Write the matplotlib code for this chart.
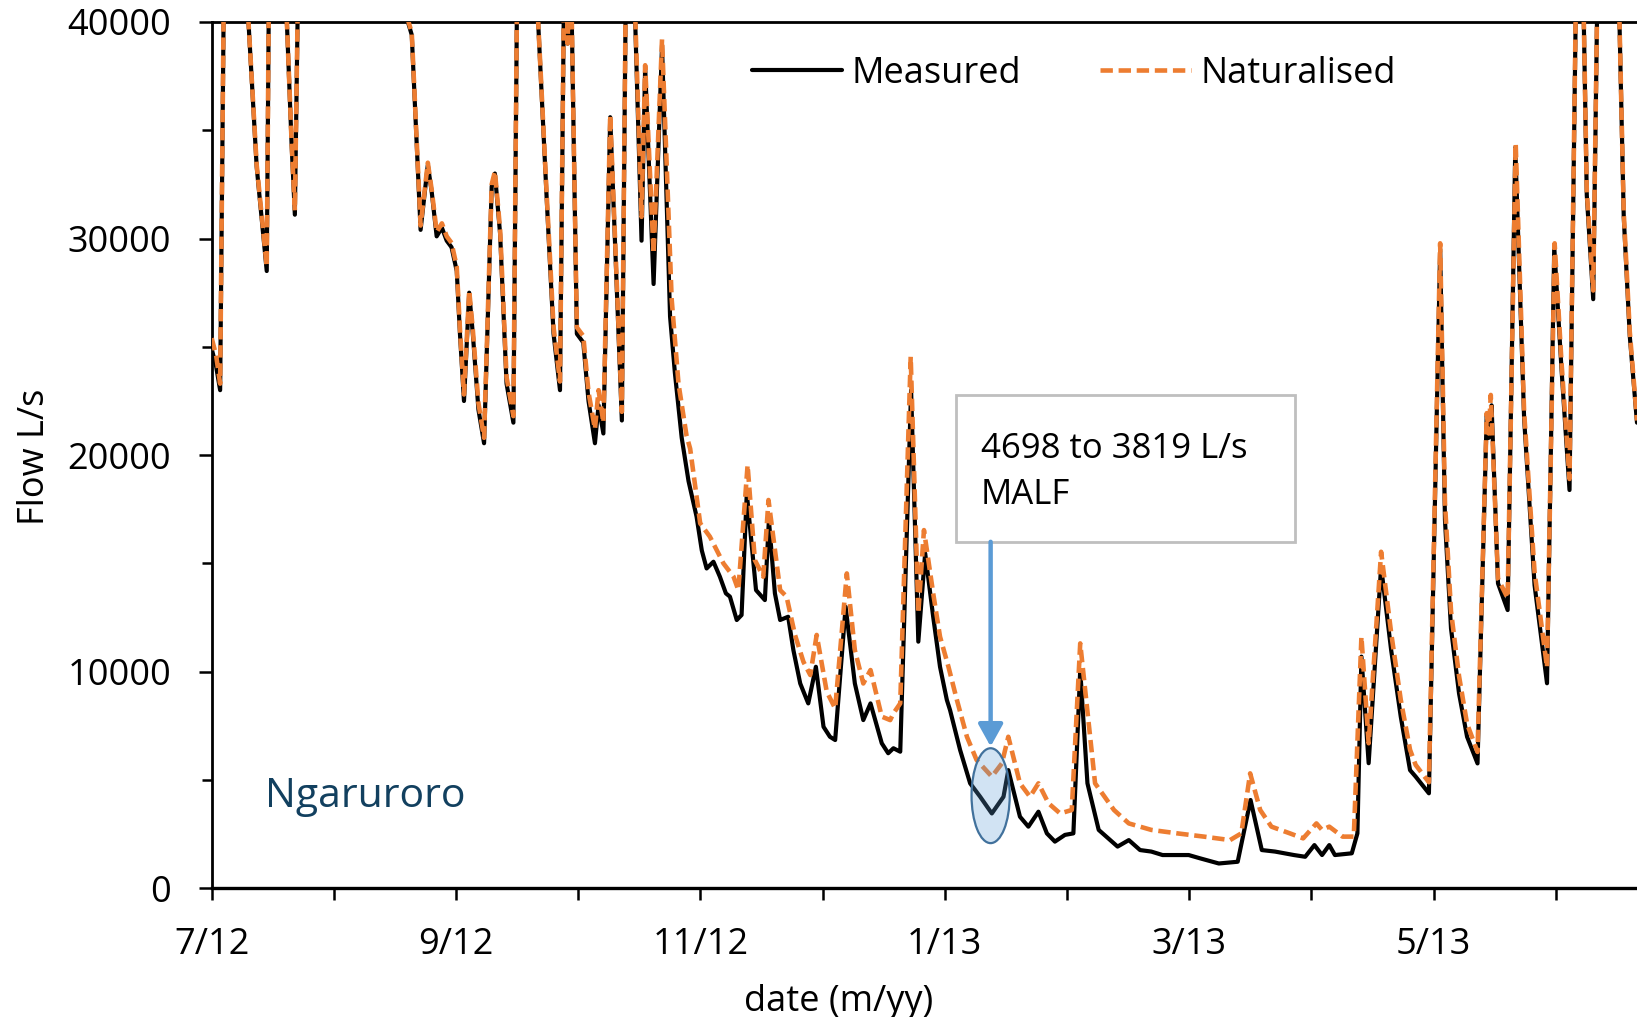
import matplotlib
matplotlib.use("Agg")
import matplotlib.pyplot as plt
from matplotlib.patches import Ellipse, Rectangle
from matplotlib.ticker import FixedLocator, MultipleLocator

plt.rcParams['font.family'] = ['Open Sans', 'DejaVu Sans']

# Daily flow at the Ngaruroro site, days counted from 1 July 2012 (L/s)
meas_day = [0.0, 1.1, 2.1, 3.3, 5.0, 7.0, 9.0, 11.2, 13.7, 14.6, 16.5, 18.5, 19.9, 20.7,
            22.5, 26.0, 30.0, 35.0, 40.0, 45.0, 48.0, 49.0, 49.8, 52.0, 53.8, 54.8, 56.0,
            57.3, 58.5, 59.7, 61.0, 61.8, 62.8, 64.1, 65.0, 66.4, 67.8, 69.7, 70.5, 71.8,
            73.4, 75.1, 76.5, 78.5, 81.0, 83.4, 85.1, 86.7, 88.0, 88.6, 89.2, 90.9, 92.5,
            93.8, 95.4, 96.3, 97.5, 99.2, 102.1, 103.5, 104.8, 107.0, 107.9, 110.0, 112.1,
            114.1, 115.3, 117.0, 118.7, 120.7, 122.0, 123.2, 124.9, 126.5, 128.0, 129.0,
            130.7, 131.9, 133.2, 135.5, 137.7, 138.7, 140.2, 141.5, 143.5, 144.8, 146.5,
            148.5, 150.4, 152.3, 153.9, 155.2, 157.8, 160.1, 162.2, 164.0, 166.8, 168.4,
            169.7, 171.4, 174.1, 175.9, 177.6, 179.6, 181.3, 183.0, 183.8, 186.3, 188.8,
            191.3, 194.2, 197.1, 198.3, 201.2, 203.3, 205.8, 207.9, 209.9, 212.4, 214.5,
            216.2, 218.0, 220.8, 225.5, 228.3, 231.1, 233.9, 236.7, 243.2, 246.0, 250.7,
            255.4, 258.6, 261.4, 264.7, 269.4, 272.2, 274.5, 276.4, 278.2, 279.6, 283.8,
            285.2, 286.2, 288.0, 291.1, 293.6, 296.0, 298.3, 299.7, 303.0, 305.8, 307.0,
            308.5, 310.5, 312.5, 315.1, 317.4, 317.9, 318.6, 320.2, 322.6, 324.5, 326.7,
            329.3, 332.4, 334.2, 336.0, 338.0, 339.8, 341.0, 342.3, 343.9, 345.2, 348.0,
            350.2, 351.5, 353.0, 354.8]
meas_flow = [24900, 24100, 23000, 47000, 62000, 51000, 40500, 33300, 28500, 50000, 46000,
             41000, 34300, 31100, 55000, 72000, 60000, 80000, 62000, 52000, 41500, 39900,
             39400, 30400, 33400, 32100, 30100, 30500, 29900, 29600, 28500, 25600, 22500,
             27500, 25600, 22100, 20550, 32400, 33000, 30200, 23300, 21500, 52000, 47000,
             41000, 31800, 25600, 23000, 47000, 39000, 45000, 25600, 25200, 22500, 20550,
             22300, 21000, 35600, 21600, 50000, 44000, 29900, 37900, 27900, 38900, 26400,
             23800, 20800, 18800, 17160, 15600, 14770, 15080, 14390, 13620, 13470, 12390,
             12620, 18240, 13770, 13310, 17000, 13620, 12390, 12540, 11000, 9460, 8540,
             10230, 7460, 7000, 6850, 13000, 9460, 7770, 8540, 6700, 6240, 6470, 6310,
             23000, 11390, 15470, 12540, 10230, 8700, 8230, 6390, 4850, 4230, 3460, 4230,
             5460, 3310, 2850, 3540, 2540, 2160, 2470, 2540, 10080, 4850, 2700, 1930, 2230,
             1770, 1700, 1540, 1540, 1390, 1150, 1230, 4080, 1770, 1700, 1540, 1460, 2000,
             1540, 2000, 1540, 1620, 2540, 10700, 5780, 14850, 11000, 7920, 5460, 5160,
             4390, 29500, 17000, 12000, 9000, 7000, 5770, 21900, 20800, 22300, 14080,
             12850, 34200, 21700, 14000, 9470, 29600, 24000, 18390, 44000, 46000, 32000,
             27200, 45000, 55000, 42000, 31000, 25500, 21500]

nat_day = [0.0, 1.1, 2.1, 3.3, 5.0, 7.0, 9.0, 11.2, 13.7, 14.6, 16.5, 18.5, 19.9, 20.7,
           22.5, 26.0, 30.0, 35.0, 40.0, 45.0, 48.0, 49.0, 49.8, 52.0, 53.8, 54.8, 56.0,
           57.3, 58.5, 59.7, 61.0, 61.8, 62.8, 64.1, 65.0, 66.4, 67.8, 69.7, 70.5, 71.8,
           73.4, 75.1, 76.5, 78.5, 81.0, 83.4, 85.1, 86.7, 88.0, 88.6, 89.2, 90.9, 92.5,
           93.8, 95.4, 96.3, 97.5, 99.2, 102.1, 103.5, 104.8, 107.0, 107.9, 110.0, 112.1,
           114.5, 116.2, 118.2, 119.1, 121.6, 124.0, 127.4, 129.9, 131.1, 133.4, 135.2,
           137.3, 138.6, 141.5, 143.1, 145.2, 147.3, 149.0, 150.6, 153.1, 155.2, 158.1,
           160.1, 162.2, 164.0, 166.8, 168.9, 169.7, 171.4, 174.0, 175.9, 177.3, 179.6,
           181.3, 183.4, 185.5, 188.0, 190.4, 194.2, 196.7, 198.3, 201.2, 203.7, 205.8,
           208.3, 211.2, 214.1, 216.2, 219.9, 224.6, 228.3, 233.9, 240.4, 247.0, 253.5,
           256.3, 258.5, 261.0, 263.8, 268.4, 271.7, 275.0, 276.4, 278.2, 281.5, 284.3,
           286.2, 288.0, 291.1, 293.6, 296.0, 298.3, 299.7, 303.0, 305.8, 307.0, 308.5,
           310.5, 312.5, 315.1, 317.4, 317.9, 318.4, 320.2, 322.6, 324.6, 326.7, 329.3,
           332.4, 334.3, 336.0, 338.0, 339.8, 341.0, 342.3, 343.9, 345.2, 348.0, 350.2,
           351.5, 353.0, 354.8]
nat_flow = [25400, 24600, 23300, 47000, 62000, 51000, 40500, 33400, 28700, 50000, 46000,
            41000, 34400, 31300, 55000, 72000, 60000, 80000, 62000, 52000, 41500, 40000,
            39500, 30600, 33500, 32200, 30300, 30700, 30100, 29800, 28700, 25800, 22800,
            27600, 25800, 22400, 20800, 32500, 33100, 30400, 23600, 21800, 52000, 47000,
            41000, 32000, 25900, 23400, 47000, 39000, 45000, 25900, 25500, 22900, 21200,
            23000, 21500, 35700, 22000, 50000, 44000, 31000, 38000, 29300, 39200, 27200,
            23300, 20900, 20300, 16850, 16240, 15000, 14390, 13770, 19540, 15160, 14390,
            17930, 13770, 13470, 11700, 10460, 9850, 11700, 9080, 8310, 14540, 11000, 9460,
            10080, 7930, 7770, 8080, 8540, 24540, 12700, 16540, 13620, 11620, 10230, 8700,
            7000, 5930, 5160, 5770, 7000, 4850, 4230, 4850, 3930, 3460, 3620, 11310, 4850,
            3620, 3000, 2700, 2540, 2390, 2230, 2540, 5310, 3620, 2850, 2540, 2310, 3000,
            2700, 2850, 2390, 2390, 11620, 6700, 15540, 11800, 8700, 6400, 5700, 4900,
            29780, 17800, 12800, 9800, 7600, 6300, 21940, 21000, 22780, 14300, 13400, 34390,
            22000, 14600, 10200, 29780, 24300, 18900, 44000, 46000, 32200, 27600, 45000,
            55000, 42000, 31200, 25700, 21600]

month_labels = ['7/12', '', '9/12', '', '11/12', '', '1/13', '', '3/13', '', '5/13', '']
y_ticks = [0, 10000, 20000, 30000, 40000]

malf_text = ['4698 to 3819 L/s', 'MALF']
malf_day = 193.9
malf_low = 4280

W, H = 1637, 1017
fig = plt.figure(figsize=(W / 100, H / 100), dpi=100)
left_px, top_px, bottom_px = 211.7, 21.9, 888.4
ax = fig.add_axes([left_px / W, 1 - bottom_px / H, 1 - left_px / W, (bottom_px - top_px) / H])

ax.plot(meas_day, meas_flow, color='black', lw=3.0, label='Measured', zorder=3,
        solid_joinstyle='round', solid_capstyle='round')
ax.plot(nat_day, nat_flow, color='#ED7D31', lw=3.3, dashes=(2.7, 1.25),
        label='Naturalised', zorder=4, dash_joinstyle='round')

ax.set_xlim(0, 354.8)
ax.set_ylim(0, 40000)

month_len = 365 / 12
ax.xaxis.set_major_locator(FixedLocator([i * month_len for i in range(len(month_labels))]))
ax.set_xticklabels(month_labels)
ax.set_yticks(y_ticks)
ax.set_yticklabels([str(v) for v in y_ticks])
ax.yaxis.set_minor_locator(MultipleLocator(5000))

ax.tick_params(axis='x', which='major', direction='out', length=8.6, width=1.8,
               labelsize=26, pad=19.5, colors='black')
ax.tick_params(axis='y', which='major', direction='out', length=9.4, width=1.8,
               labelsize=26, pad=19.8, colors='black')
ax.tick_params(axis='y', which='minor', direction='out', length=7.2, width=1.8)

for side in ['left', 'bottom', 'top']:
    ax.spines[side].set_linewidth(2.0)
    ax.spines[side].set_color('black')
ax.spines['bottom'].set_linewidth(2.4)
ax.spines['right'].set_visible(False)

fig.text(34.5 / W, 1 - 456.8 / H, 'Flow L/s', rotation=90, ha='center', va='center',
         fontsize=26)
fig.text(838.3 / W, 1 - 1010.6 / H, 'date (m/yy)', ha='center', va='baseline', fontsize=26)

ax.legend(loc='center left', bbox_to_anchor=(751.7 / W, 1 - 74 / H),
          bbox_transform=fig.transFigure, ncol=2, frameon=False, fontsize=26,
          handlelength=2.5, handletextpad=0.26, columnspacing=2.2,
          borderpad=0, borderaxespad=0)

ax.text(13.3, 4250, 'Ngaruroro', color='#12405F', fontsize=29.5, ha='left', va='center')

# MALF annotation: boxed note, arrow and highlighted low-flow dip
box = Rectangle((185.4, 16000), 84.2, 6790, facecolor='white', edgecolor='#BFBFBF',
                lw=2.0, zorder=5)
ax.add_patch(box)
ax.text(191.5, 20300, malf_text[0], fontsize=25, ha='left', va='center', zorder=6)
ax.text(191.5, 18180, malf_text[1], fontsize=25, ha='left', va='center', zorder=6)
ax.annotate('', xy=(malf_day, 6550), xytext=(malf_day, 16000),
            arrowprops=dict(arrowstyle='-|>,head_length=0.9,head_width=0.5',
                            color='#5B9BD5', lw=3.2, mutation_scale=15,
                            shrinkA=0, shrinkB=0), zorder=6)
ax.add_patch(Ellipse((malf_day, malf_low), width=9.5, height=4380,
                     facecolor=(0.357, 0.608, 0.835, 0.28), edgecolor='#41719C',
                     lw=1.6, zorder=6))

fig.savefig('out.png', dpi=100)
